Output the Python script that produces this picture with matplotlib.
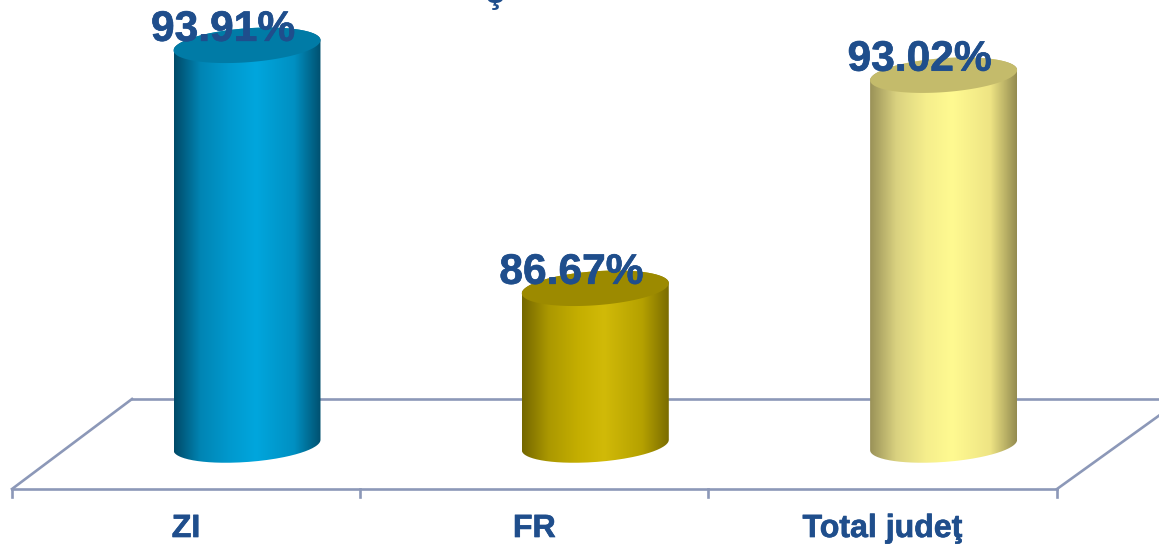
import numpy as np
import matplotlib
matplotlib.use("Agg")
import matplotlib.pyplot as plt
import matplotlib.patheffects as pe
from matplotlib.colors import LinearSegmentedColormap
from matplotlib.patches import PathPatch
from matplotlib.path import Path
from matplotlib.transforms import Affine2D

categories = ["ZI", "FR", "Total judeţ"]
values = [93.91, 86.67, 93.02]
value_labels = ["93.91%", "86.67%", "93.02%"]
side_colors = [
    ["#004A68", "#0085B4", "#0099CE", "#00A6DD", "#0090C2", "#00506F"],
    ["#746700", "#AB9800", "#C4AE00", "#D1BA08", "#B5A100", "#7A6C00"],
    ["#9A9258", "#DAD280", "#F5EE8C", "#FFFA91", "#EEE484", "#948C50"],
]
top_colors = ["#007BA6", "#9C8A00", "#C4BB6B"]

W, H = 1159, 544
X0, XS = 186.0, 348.3     # pixel of category 0, pixels per category
Y0, YS = 445.0, 33.56     # pixel of axis base, pixels per percent
BASE = 82.0
TEXT = "#1F4E8C"
AXC = "#8C98B8"

fig = plt.figure(figsize=(W / 100, H / 100), dpi=100)
ax = fig.add_axes([0, 0, 1, 1])
ax.axis("off")
xlim = ((0 - X0) / XS, (W - X0) / XS)
ylim = (BASE - (H - Y0) / YS, BASE + Y0 / YS)
ax.set_xlim(xlim)
ax.set_ylim(ylim)
px = Affine2D().scale(1, -1).translate(0, H)  # top-left pixel space for the floor
heavy = [pe.withStroke(linewidth=0.5, foreground=TEXT)]


def pline(xs, ys, lw=1.9):
    ax.plot(xs, ys, color=AXC, lw=lw, transform=px, solid_capstyle="projecting", zorder=1)


# floor and ticks
pline([132, W + 5], [399, 399])
pline([12, 1057], [489, 489])
pline([12, 132], [489, 399])
pline([1057, W + 5], [489, 412])
for i in range(len(categories) + 1):
    x = X0 + (i - 0.5) * XS
    pline([x, x], [489, 497])

# cylinders
DEPTH = 61.0 / XS
A = 73.5 / XS
B = 17.0 / YS
SHEAR = 0.07 * XS / YS
t = np.linspace(0, 2 * np.pi, 200)

for i, (cat, v) in enumerate(zip(categories, values)):
    cx = i + DEPTH
    ex = A * np.cos(t)
    ey = B * np.sin(t) + SHEAR * ex
    # outline: lower half of bottom ellipse plus the upper half of the top one
    low = t > np.pi
    top_half = t <= np.pi
    xs = np.r_[cx + ex[low], cx + ex[top_half]]
    ys = np.r_[BASE + ey[low], v + ey[top_half]]
    body = PathPatch(Path(np.c_[xs, ys]), fc="none", ec="none", transform=ax.transData)
    ax.add_patch(body)
    cmap = LinearSegmentedColormap.from_list(
        "c", list(zip([0, 0.18, 0.38, 0.56, 0.82, 1], side_colors[i]))
    )
    im = ax.imshow(
        np.linspace(0, 1, 256)[None, :], cmap=cmap, aspect="auto",
        extent=(cx - A, cx + A, BASE - 1, v + 1), interpolation="bilinear", zorder=2,
    )
    im.set_clip_path(body)
    ax.fill(cx + ex, v + ey, color=top_colors[i], lw=0, zorder=3)
    ax.text(cx - 24 / XS, v + 15.5 / YS, value_labels[i], ha="center", va="center",
            family="Liberation Sans", weight="bold", fontsize=30.6, color=TEXT, zorder=5,
            path_effects=heavy)
    ax.text(i, BASE - 84 / YS, cat, ha="center", va="center",
            family="Liberation Sans", weight="bold", fontsize=23.1, color=TEXT, zorder=5,
            path_effects=heavy)

ax.set_xlim(xlim)
ax.set_ylim(ylim)

# clipped remnant of a title at the top edge
ax.text(495, -6, "ş", transform=px, ha="center", va="center", family="Liberation Sans",
        weight="bold", fontsize=24, color=TEXT)

fig.savefig("out.png", dpi=100)
